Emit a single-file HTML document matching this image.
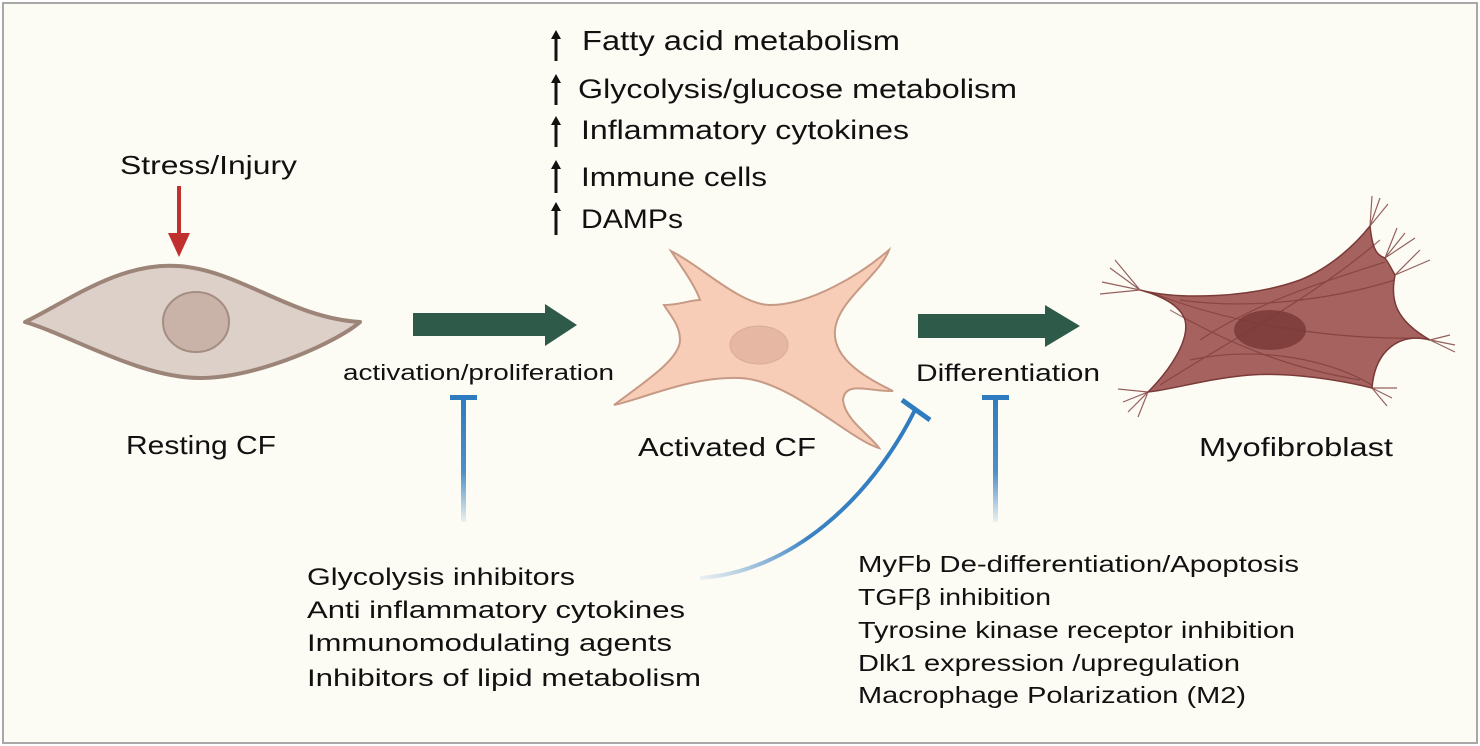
<!DOCTYPE html>
<html><head><meta charset="utf-8"><style>
html,body{margin:0;padding:0;background:#fff;}
svg{display:block;}
text{font-family:"Liberation Sans",sans-serif;fill:#111;}
</style></head><body>
<svg width="1480" height="746" viewBox="0 0 1480 746" xmlns="http://www.w3.org/2000/svg">
<defs>
<linearGradient id="gv" x1="0" y1="0" x2="0" y2="1"><stop offset="0" stop-color="#2f7bc0"/><stop offset="0.6" stop-color="#4f8fca"/><stop offset="1" stop-color="#4f8fca" stop-opacity="0.1"/></linearGradient>
<linearGradient id="gc" x1="700" y1="578" x2="915" y2="408" gradientUnits="userSpaceOnUse"><stop offset="0" stop-color="#4f8fca" stop-opacity="0.1"/><stop offset="0.4" stop-color="#3a82c4"/><stop offset="1" stop-color="#2f7bc0"/></linearGradient>
</defs>
<rect x="3" y="3" width="1474" height="740" fill="#fdfcf4" stroke="#a8a8a8" stroke-width="2"/>

<!-- top list -->
<g fill="#111">
<path d="M556 30 l-5 9 h3.5 v22 h3 v-22 h3.5z"/>
<path d="M556 74 l-5 9 h3.5 v22 h3 v-22 h3.5z"/>
<path d="M556 116 l-5 9 h3.5 v22 h3 v-22 h3.5z"/>
<path d="M556 160 l-5 9 h3.5 v24 h3 v-24 h3.5z"/>
<path d="M556 202 l-5 9 h3.5 v24 h3 v-24 h3.5z"/>
</g>
<text x="582" y="50" font-size="28" textLength="318" lengthAdjust="spacingAndGlyphs">Fatty acid metabolism</text>
<text x="578" y="98" font-size="27" textLength="439" lengthAdjust="spacingAndGlyphs">Glycolysis/glucose metabolism</text>
<text x="581" y="139" font-size="27" textLength="328" lengthAdjust="spacingAndGlyphs">Inflammatory cytokines</text>
<text x="581" y="186" font-size="27" textLength="186" lengthAdjust="spacingAndGlyphs">Immune cells</text>
<text x="581" y="228" font-size="27" textLength="102" lengthAdjust="spacingAndGlyphs">DAMPs</text>

<!-- stress -->
<text x="120" y="174" font-size="26" textLength="177" lengthAdjust="spacingAndGlyphs">Stress/Injury</text>
<path d="M177 186 L181 186 L181 233 L190 233 L179 257 L168 233 L177 233Z" fill="#c0302e"/>

<!-- resting cell -->
<path d="M25 322 C 70 300, 120 262, 178 266 C 240 270, 290 318, 360 322 C 340 340, 260 378, 200 378 C 140 378, 70 335, 25 322Z" fill="#ddd0c8" stroke="#9c8578" stroke-width="4" stroke-linejoin="round"/>
<ellipse cx="196" cy="322" rx="33" ry="30" fill="#c9b3a8" stroke="#a48e82" stroke-width="2"/>
<text x="201" y="454" font-size="26" text-anchor="middle" textLength="150" lengthAdjust="spacingAndGlyphs">Resting CF</text>

<!-- arrow 1 -->
<path d="M413 313 H545 V304 L577 325 L545 346 V336 H413Z" fill="#2e5a4a"/>
<text x="343" y="380" font-size="22" textLength="271" lengthAdjust="spacingAndGlyphs">activation/proliferation</text>

<!-- activated cell -->
<path d="M671 251 C 700 265, 740 305, 770 305 C 810 305, 860 275, 889 250 C 880 275, 838 300, 835 330 C 832 360, 870 380, 893 391 C 870 392, 845 380, 843 400 C 845 420, 870 435, 879 448 C 850 440, 790 380, 740 378 C 690 376, 640 400, 614 405 C 640 385, 680 360, 680 340 C 680 325, 670 315, 664 305 C 680 305, 690 300, 700 300 C 695 285, 680 265, 671 251Z" fill="#f7cdb8" stroke="#c79a85" stroke-width="2"/>
<ellipse cx="759" cy="345" rx="29" ry="19" fill="#e6b8a4" stroke="#d8ac98" stroke-width="1"/>
<text x="727" y="456" font-size="26" text-anchor="middle" textLength="178" lengthAdjust="spacingAndGlyphs">Activated CF</text>

<!-- arrow 2 -->
<path d="M918 314 H1045 V305 L1080 326 L1045 347 V338 H918Z" fill="#2e5a4a"/>
<text x="916" y="381" font-size="24" textLength="184" lengthAdjust="spacingAndGlyphs">Differentiation</text>

<!-- myofibroblast -->
<g stroke="#7a3a38" stroke-width="1.2" fill="none" opacity="0.8">
<path d="M1140 290 l-30 -22 M1140 290 l-38 -8 M1140 290 l-25 -30 M1140 290 l-40 4"/>
<path d="M1370 226 l2 -30 M1370 226 l10 -28 M1370 226 l18 -22 M1385 258 l20 -25 M1385 258 l30 -20 M1385 258 l12 -30 M1395 275 l35 -15 M1395 275 l25 -25"/>
<path d="M1430 340 l25 5 M1430 340 l25 12 M1430 340 l20 -5"/>
<path d="M1372 388 l20 10 M1372 388 l15 18 M1372 388 l25 0"/>
<path d="M1148 392 l-25 10 M1148 392 l-20 20 M1148 392 l-30 -3 M1148 392 l-10 25"/>
</g>
<path d="M1140 290 C 1180 300, 1250 298, 1300 280 C 1330 268, 1355 245, 1370 226 C 1372 245, 1375 255, 1385 258 C 1390 265, 1393 272, 1395 275 C 1390 300, 1395 320, 1430 340 C 1400 332, 1375 350, 1372 388 C 1340 380, 1290 372, 1250 375 C 1210 378, 1170 390, 1148 392 C 1170 370, 1190 340, 1185 320 C 1180 305, 1160 295, 1140 290Z" fill="#a6625e" stroke="#7a3a38" stroke-width="1.5"/>
<g stroke="#7a3a38" stroke-width="1.2" fill="none" opacity="0.7">
<path d="M1150 292 C 1220 320, 1320 340, 1420 338"/>
<path d="M1160 385 C 1230 340, 1310 300, 1380 240"/>
<path d="M1180 300 C 1250 310, 1330 300, 1395 280"/>
<path d="M1190 360 C 1260 345, 1330 360, 1372 385"/>
<path d="M1170 310 C 1240 350, 1300 370, 1360 380"/>
<path d="M1200 340 C 1260 300, 1330 280, 1385 262"/>
</g>
<ellipse cx="1270" cy="330" rx="36" ry="20" fill="#7a3a38" opacity="0.85"/>
<text x="1296" y="456" font-size="26" text-anchor="middle" textLength="194" lengthAdjust="spacingAndGlyphs">Myofibroblast</text>

<!-- inhibitors -->
<rect x="461" y="397" width="5" height="125" fill="url(#gv)"/>
<rect x="450" y="395" width="27" height="5" fill="#2f7bc0"/>
<rect x="993" y="397" width="5" height="125" fill="url(#gv)"/>
<rect x="982" y="395" width="27" height="5" fill="#2f7bc0"/>
<path d="M700 578 C 790 572, 870 500, 915 410" fill="none" stroke="url(#gc)" stroke-width="4"/>
<path d="M902 400 L 930 420" stroke="#2f7bc0" stroke-width="5"/>

<g font-size="24">
<text x="307" y="585" textLength="268" lengthAdjust="spacingAndGlyphs">Glycolysis inhibitors</text>
<text x="307" y="618" textLength="378" lengthAdjust="spacingAndGlyphs">Anti inflammatory cytokines</text>
<text x="307" y="651" textLength="365" lengthAdjust="spacingAndGlyphs">Immunomodulating agents</text>
<text x="307" y="686" textLength="394" lengthAdjust="spacingAndGlyphs">Inhibitors of lipid metabolism</text>
</g>
<g font-size="23">
<text x="858" y="572" textLength="441" lengthAdjust="spacingAndGlyphs">MyFb De-differentiation/Apoptosis</text>
<text x="858" y="605" textLength="193" lengthAdjust="spacingAndGlyphs">TGFβ inhibition</text>
<text x="858" y="638" textLength="437" lengthAdjust="spacingAndGlyphs">Tyrosine kinase receptor inhibition</text>
<text x="858" y="671" textLength="382" lengthAdjust="spacingAndGlyphs">Dlk1 expression /upregulation</text>
<text x="858" y="703" textLength="388" lengthAdjust="spacingAndGlyphs">Macrophage Polarization (M2)</text>
</g>
</svg>
</body></html>
